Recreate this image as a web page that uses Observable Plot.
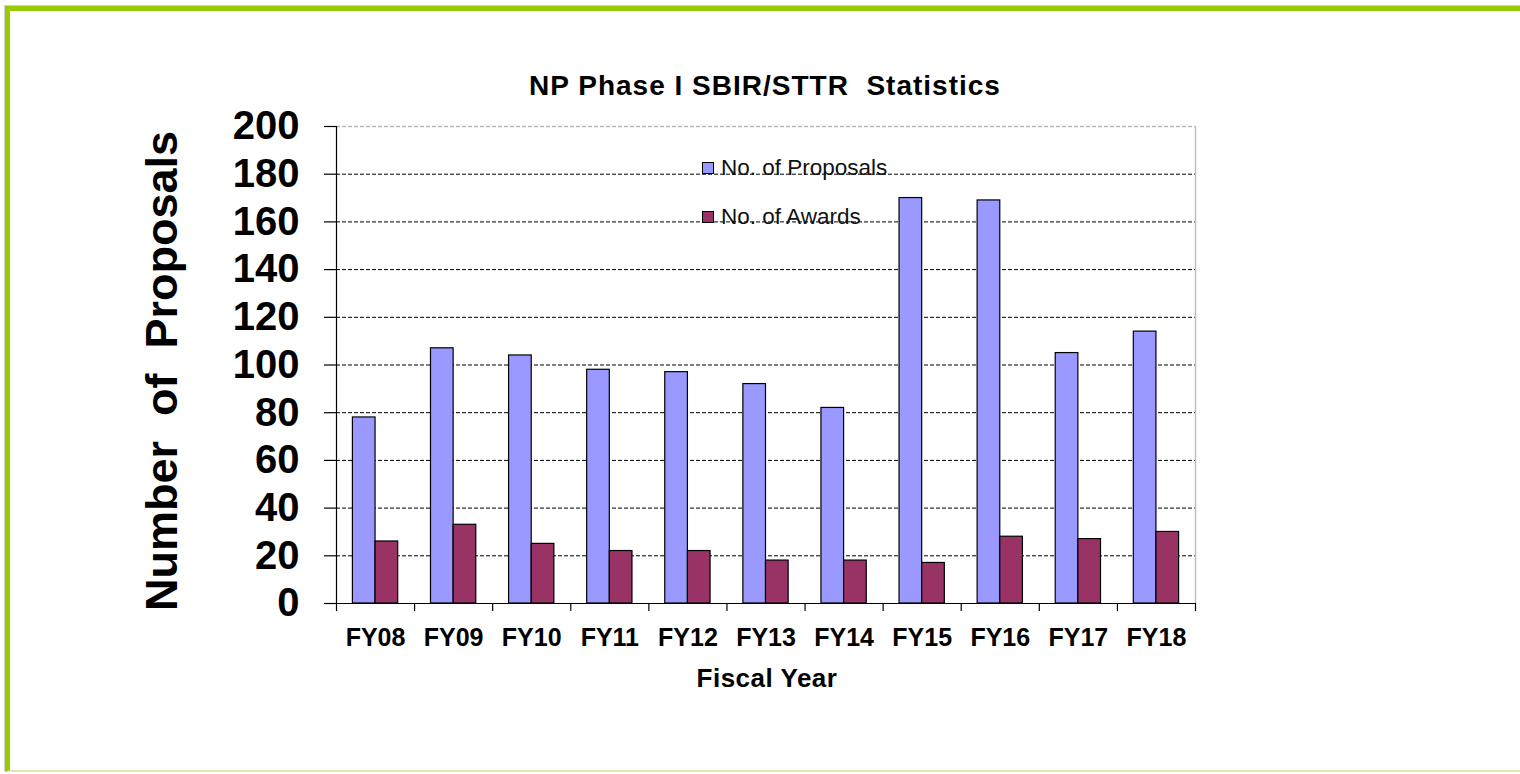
<!DOCTYPE html>
<html>
<head>
<meta charset="utf-8">
<script src="https://cdn.jsdelivr.net/npm/d3@7"></script>
<script src="https://cdn.jsdelivr.net/npm/@observablehq/plot@0.6"></script>
<style>
  html, body { margin: 0; padding: 0; background: #ffffff; }
  #wrap { position: relative; width: 1520px; height: 774px; overflow: hidden; font-family: "Liberation Sans", Arial, sans-serif; color: #000; }
  #chart { position: absolute; left: 0; top: 0; }
  .lbl { position: absolute; white-space: nowrap; font-weight: bold; transform: translate(-50%, -50%); }
  #border { position: absolute; left: 5px; top: 6px; width: 1700px; height: 759px; border-left: 5px solid #99cc00; border-top: 5px solid #99cc00; border-bottom: 2px solid #dfe9b4; box-shadow: -1px -1px 0 #d0d0d0; }
  #legend { position: absolute; left: 702px; top: 157px; font-size: 22.5px; color: #111; }
  .lg { display: flex; align-items: center; height: 22px; margin-bottom: 27px; }
  .sw { width: 10px; height: 10px; border: 1px solid #000; margin-right: 7px; }
</style>
</head>
<body>
<div id="wrap">
  <div id="border"></div>
  <div id="chart"></div>
  <div class="lbl" id="title" style="left:765px; top:86px; font-size:28px; letter-spacing:1px;">NP Phase I SBIR/STTR&nbsp; Statistics</div>
  <div class="lbl" id="ytitle" style="left:162px; top:371px; font-size:45px; transform: translate(-50%, -50%) rotate(-90deg);">Number&nbsp; of&nbsp; Proposals</div>
  <div class="lbl" id="xtitle" style="left:767px; top:678px; font-size:26px; letter-spacing:0.5px;">Fiscal Year</div>
  <div id="legend"></div>
</div>
<script>
const years = ["FY08", "FY09", "FY10", "FY11", "FY12", "FY13", "FY14", "FY15", "FY16", "FY17", "FY18"];
const proposals = [78, 107, 104, 98, 97, 92, 82, 170, 169, 105, 114];
const awards = [26, 33, 25, 22, 22, 18, 18, 17, 28, 27, 30];
const yTicks = [0, 20, 40, 60, 80, 100, 120, 140, 160, 180, 200];
const seriesNames = ["No. of Proposals", "No. of Awards"];
const seriesColors = ["#9999FF", "#993366"];

const table = years.map((y, i) => ({year: y, proposals: proposals[i], awards: awards[i]}));

const W = 1520, H = 774, mL = 336, mR = 325, mT = 126, mB = 171;
const step = (W - mL - mR) / years.length;
const pIn = 0.42, pOut = 0.21;
const bw = step * (1 - pIn);

const chart = Plot.plot({
  width: W, height: H,
  marginLeft: mL, marginRight: mR, marginTop: mT, marginBottom: mB,
  style: {fontFamily: "'Liberation Sans', Arial, sans-serif", background: "transparent", color: "#000"},
  x: {type: "band", domain: years, paddingInner: pIn, paddingOuter: pOut, round: false, axis: null, label: null},
  y: {domain: [0, 200], axis: null, label: null},
  marks: [
    Plot.ruleY(yTicks.filter(d => d > 0 && d < 200), {stroke: "#000", strokeDasharray: "4,2", strokeWidth: 1}),
    Plot.ruleY([200], {stroke: "#b8b8b8", strokeDasharray: "4,2", strokeWidth: 1.5}),
    Plot.ruleX([years[years.length - 1]], {y1: 0, y2: 200, dx: step / 2, stroke: "#c0c0c0", strokeWidth: 1.5}),
    Plot.barY(table, {x: "year", y: "proposals", fill: seriesColors[0], stroke: "#000", strokeWidth: 1.2, insetRight: bw / 2}),
    Plot.barY(table, {x: "year", y: "awards", fill: seriesColors[1], stroke: "#000", strokeWidth: 1.2, insetLeft: bw / 2}),
    Plot.ruleY([0], {stroke: "#000", strokeWidth: 1.2}),
    Plot.ruleX([years[0]], {y1: 0, y2: 200, dx: -step / 2, stroke: "#000", strokeWidth: 1.2}),
    Plot.ruleX(years, {y1: 0, y2: -3.4, dx: -step / 2, stroke: "#000", strokeWidth: 1.2}),
    Plot.ruleX([years[years.length - 1]], {y1: 0, y2: -3.4, dx: step / 2, stroke: "#000", strokeWidth: 1.2}),
    Plot.axisY({ticks: yTicks, tickSize: 12, tickPadding: 25, fontSize: 40, fontWeight: "bold", strokeWidth: 1.2, label: null}),
    Plot.axisX({tickSize: 0, tickPadding: 25, fontSize: 25, fontWeight: "bold", label: null})
  ]
});
document.getElementById("chart").appendChild(chart);

const legend = document.getElementById("legend");
seriesNames.forEach((name, i) => {
  const row = document.createElement("div");
  row.className = "lg";
  const sw = document.createElement("div");
  sw.className = "sw";
  sw.style.background = seriesColors[i];
  const tx = document.createElement("span");
  tx.textContent = name;
  row.appendChild(sw);
  row.appendChild(tx);
  legend.appendChild(row);
});
</script>
</body>
</html>
